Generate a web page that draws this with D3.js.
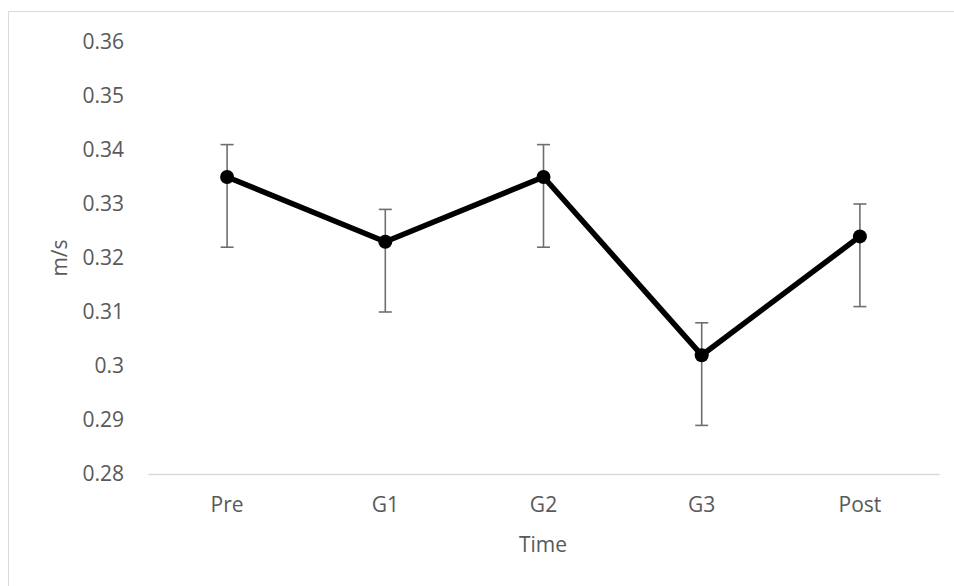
<!DOCTYPE html>
<html><head><meta charset="utf-8">
<script src="https://cdn.jsdelivr.net/npm/d3@7"></script>
<style>body{margin:0;background:#fff}text{font-family:"Open Sans",Lato,sans-serif}</style>
</head><body>
<svg id="c" width="954" height="586"></svg>
<script>
const categories = ["Pre","G1","G2","G3","Post"];
const values = [0.335,0.323,0.335,0.302,0.324];
const errUpper = [0.341,0.329,0.341,0.308,0.330];
const errLower = [0.322,0.310,0.322,0.289,0.311];
const yTicks = [0.28,0.29,0.30,0.31,0.32,0.33,0.34,0.35,0.36];

const svg = d3.select("#c");
svg.append("rect").attr("x",8.5).attr("y",11.5).attr("width",960).attr("height",600)
  .attr("fill","#fff").attr("stroke","#d9d9d9").attr("stroke-width",1);

const x = d3.scaleBand().domain(categories).range([148,939]);
const y = d3.scaleLinear().domain([0.28,0.36]).range([474,42]);
const font = 21, col = "#595959", ff = "'Open Sans',Lato,sans-serif";

// y tick labels
svg.append("g").selectAll("text").data(yTicks).join("text")
  .attr("x",124).attr("y",d=>y(d)).attr("dy","0.35em").attr("text-anchor","end")
  .attr("font-size",font).attr("fill",col).text(d=>d3.format("")(+d.toFixed(2)));

// x axis
const xa = svg.append("g").attr("transform","translate(0,474)")
  .call(d3.axisBottom(x).tickSize(0).tickPadding(23));
xa.select(".domain").attr("stroke","#d9d9d9").attr("stroke-width",1.5);
xa.selectAll("text").attr("font-size",font).attr("fill",col).attr("font-family",ff);

// titles
svg.append("text").attr("transform","translate(60,258) rotate(-90)").attr("text-anchor","middle")
  .attr("dy","0.35em").attr("font-size",font).attr("fill",col).text("m/s");
svg.append("text").attr("x",543).attr("y",545).attr("dy","0.35em").attr("text-anchor","middle")
  .attr("font-size",font).attr("fill",col).text("Time");

const cx = c => x(c)+x.bandwidth()/2;
// error bars
const eb = svg.append("g").attr("stroke","#6f6f6f").attr("stroke-width",1.6);
categories.forEach((c,i)=>{
  eb.append("line").attr("x1",cx(c)).attr("x2",cx(c)).attr("y1",y(errUpper[i])).attr("y2",y(errLower[i]));
  [errUpper[i],errLower[i]].forEach(v=>eb.append("line").attr("x1",cx(c)-6.5).attr("x2",cx(c)+6.5).attr("y1",y(v)).attr("y2",y(v)));
});

// line
svg.append("path").datum(values).attr("fill","none").attr("stroke","#000").attr("stroke-width",5.5)
  .attr("stroke-linejoin","round")
  .attr("d",d3.line().x((d,i)=>cx(categories[i])).y(d=>y(d)));
svg.append("g").selectAll("circle").data(values).join("circle")
  .attr("cx",(d,i)=>cx(categories[i])).attr("cy",d=>y(d)).attr("r",7).attr("fill","#000");
</script>
</body></html>
